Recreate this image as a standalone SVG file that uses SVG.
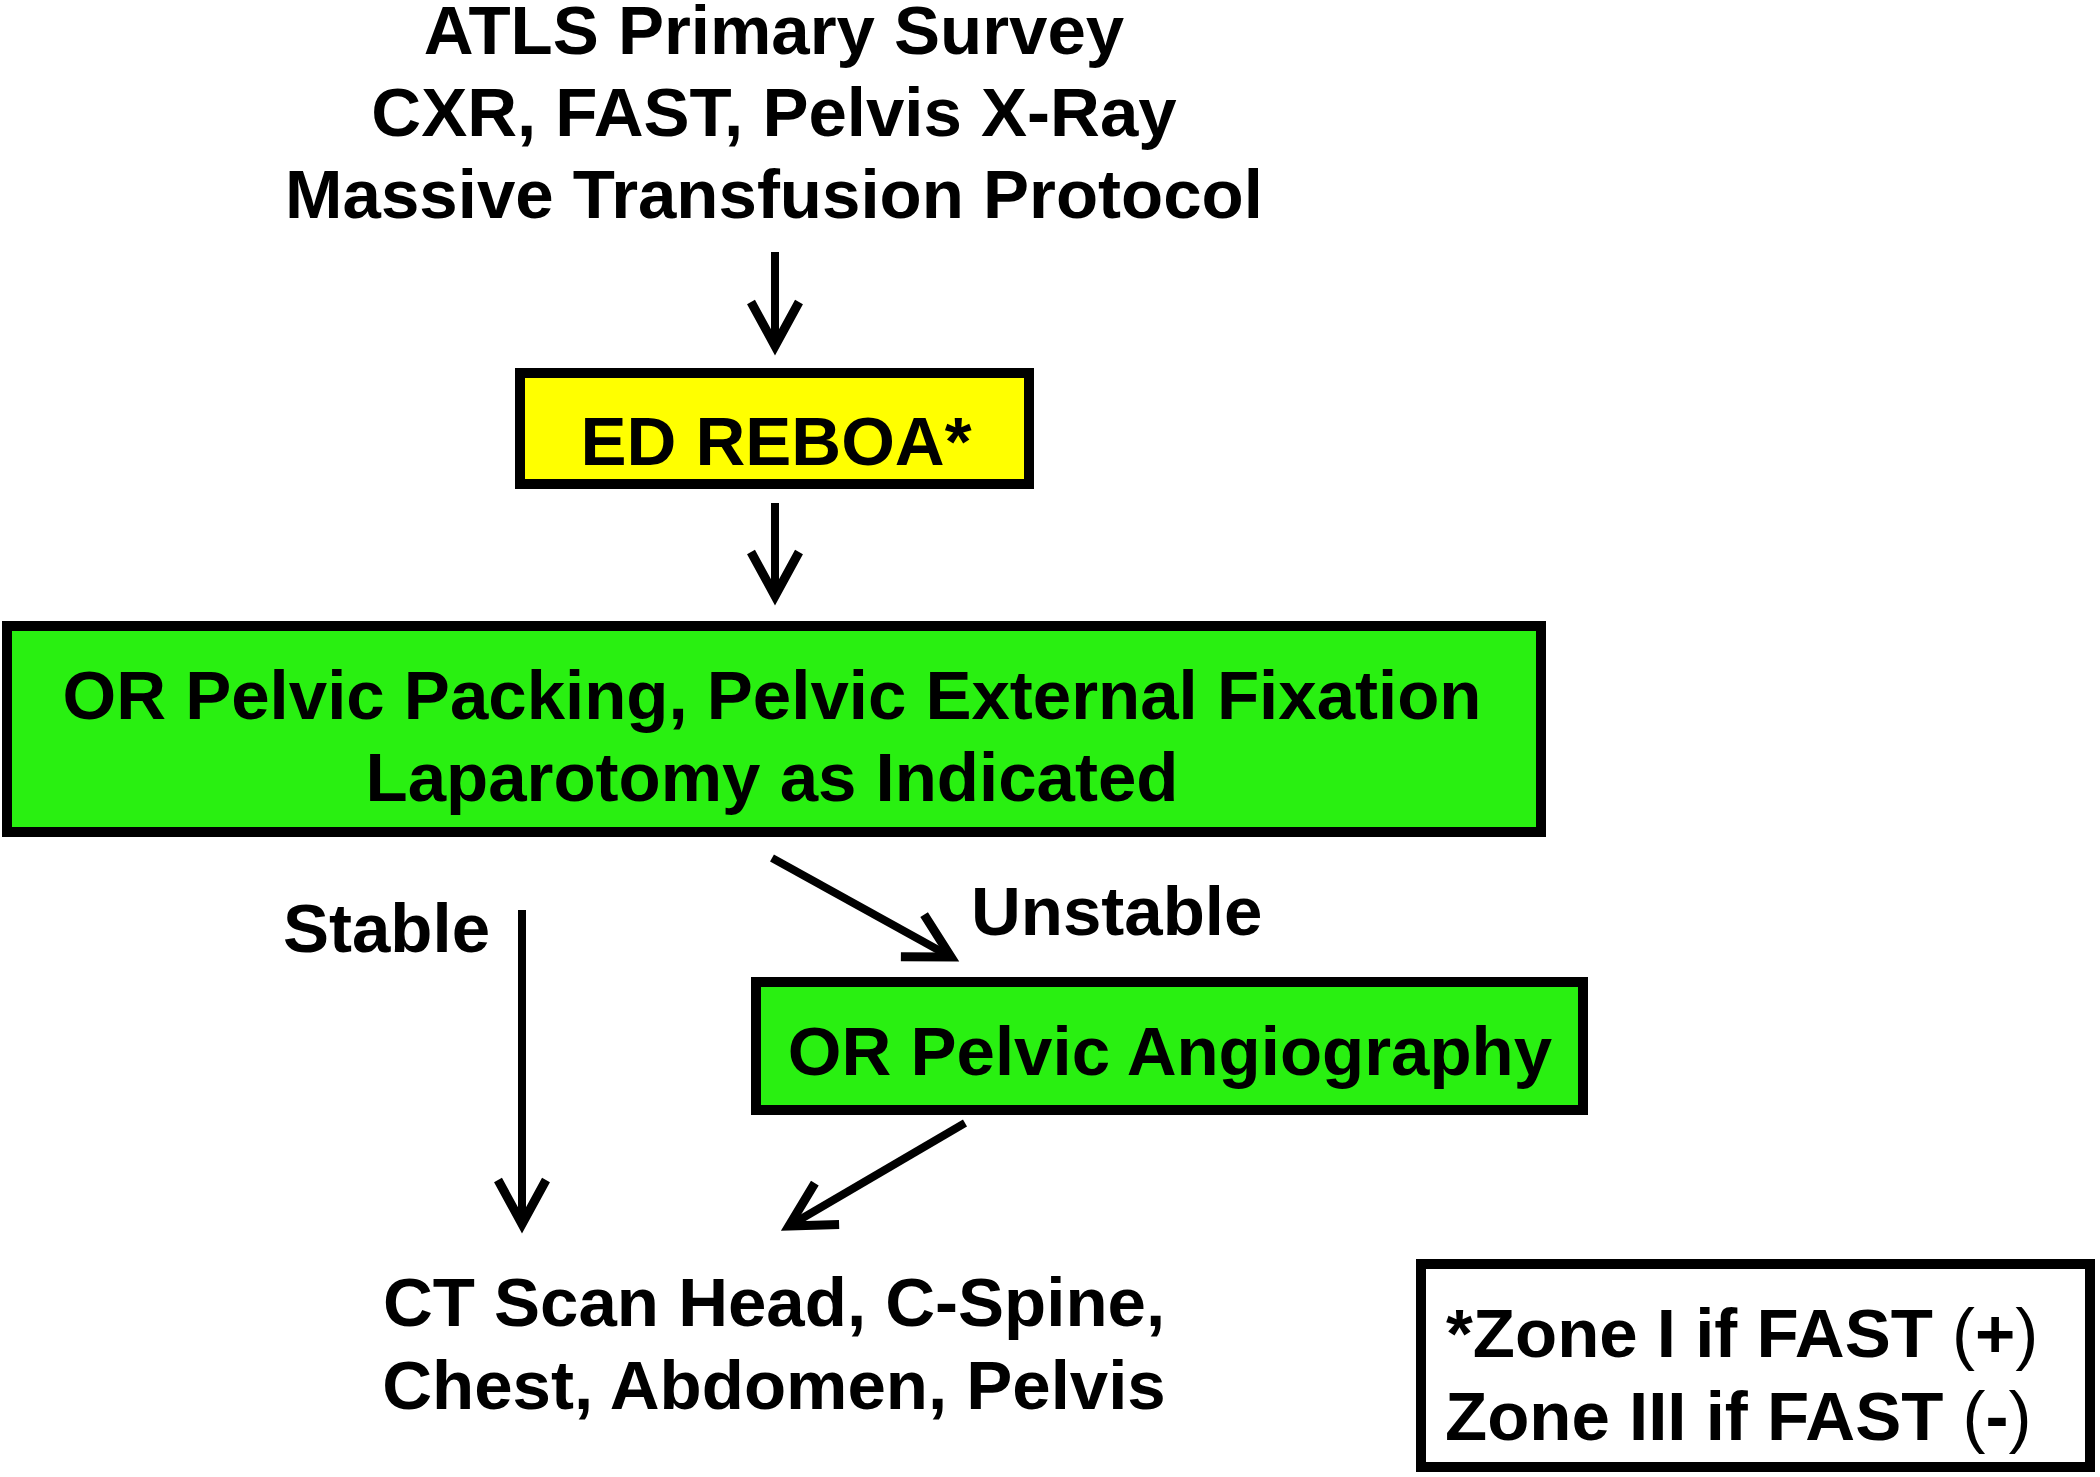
<svg xmlns="http://www.w3.org/2000/svg" width="2100" height="1477" viewBox="0 0 2100 1477">
<style>
text{font-family:"Liberation Sans",Arial,sans-serif;font-weight:bold;font-size:69px;fill:#000}
.c{text-anchor:middle}
.box{stroke:#000;stroke-width:10}
.yel{fill:#FFFF00}
.grn{fill:#29F011}
.wht{fill:#fff}
.conn{stroke:#000;stroke-width:8;fill:none}
.thin{font-weight:normal}
</style>
<defs>
<marker id="arr" markerUnits="userSpaceOnUse" viewBox="-60 -30 70 60" markerWidth="70" markerHeight="60" refX="0" refY="0" orient="auto" overflow="visible">
<path d="M-44,-24 L0,0 L-44,24" fill="none" stroke="#000" stroke-width="9"/>
</marker>
</defs>
<rect width="2100" height="1477" fill="#fff"/>
<g id="survey">
<text class="c" x="774" y="54">ATLS Primary Survey</text>
<text class="c" x="774" y="136">CXR, FAST, Pelvis X-Ray</text>
<text class="c" x="774" y="218">Massive Transfusion Protocol</text>
</g>
<g id="reboa">
<rect class="box yel" x="520" y="373" width="509" height="111"/>
<text class="c" x="776" y="465">ED REBOA*</text>
</g>
<g id="packing">
<rect class="box grn" x="7" y="626" width="1534" height="206"/>
<text class="c" x="772" y="719">OR Pelvic Packing, Pelvic External Fixation</text>
<text class="c" x="772" y="801">Laparotomy as Indicated</text>
</g>
<g id="angio">
<rect class="box grn" x="756" y="982" width="827" height="128"/>
<text class="c" x="1170" y="1075">OR Pelvic Angiography</text>
</g>
<g id="ct">
<text class="c" x="774" y="1326">CT Scan Head, C-Spine,</text>
<text class="c" x="774" y="1409">Chest, Abdomen, Pelvis</text>
</g>
<g id="note">
<rect class="box wht" x="1421" y="1264" width="669" height="203"/>
<text x="1446" y="1357">*Zone I if FAST <tspan class="thin">(</tspan>+<tspan class="thin">)</tspan></text>
<text x="1445" y="1440">Zone III if FAST <tspan class="thin">(</tspan>-<tspan class="thin">)</tspan></text>
</g>
<g id="labels">
<text x="283" y="952">Stable</text>
<text x="971" y="935">Unstable</text>
</g>
<g id="connectors">
<line class="conn" x1="775" y1="252" x2="775" y2="346" marker-end="url(#arr)"/>
<line class="conn" x1="775" y1="503" x2="775" y2="596" marker-end="url(#arr)"/>
<line class="conn" x1="772" y1="858" x2="951" y2="957" marker-end="url(#arr)"/>
<line class="conn" x1="522" y1="910" x2="522" y2="1224" marker-end="url(#arr)"/>
<line class="conn" x1="965" y1="1123" x2="789" y2="1226" marker-end="url(#arr)"/>
</g>
</svg>
